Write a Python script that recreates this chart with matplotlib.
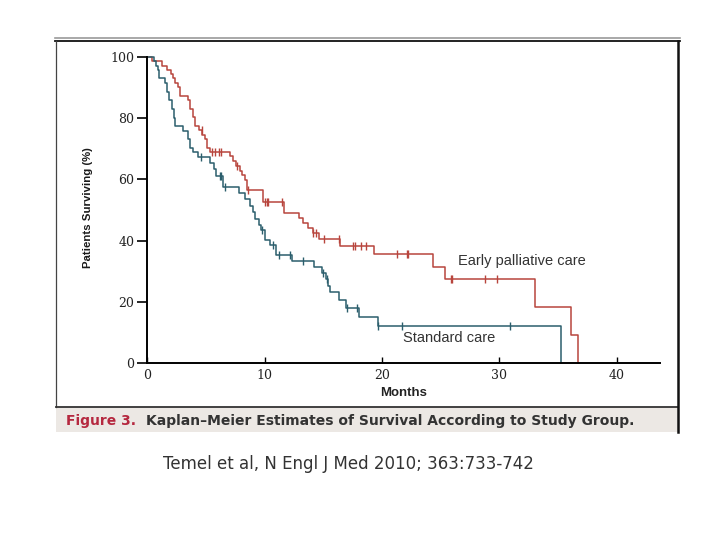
import numpy as np
import matplotlib
matplotlib.use("Agg")
from matplotlib import pyplot as plt
from matplotlib.lines import Line2D
from matplotlib.patches import Rectangle

# Kaplan-Meier step data (months, % surviving)
epc_t = [0, 0.4, 1.25, 1.7, 2.0, 2.2, 2.4, 2.6, 2.8, 3.5, 3.7, 3.9, 4.1, 4.4, 4.7,
         4.9, 5.1, 5.4, 7.1, 7.3, 7.6, 7.9, 8.1, 8.3, 8.5, 9.9, 11.7, 12.9, 13.3,
         13.7, 14.1, 14.6, 16.4, 19.3, 24.3, 25.4, 33.0, 36.1, 36.7]
epc_s = [100, 98.6, 97.2, 95.8, 94.4, 93.0, 91.5, 90.1, 87.3, 85.9, 83.1, 80.3, 77.5,
         76.1, 74.6, 73.2, 70.4, 69.0, 67.5, 66.0, 64.5, 62.9, 61.4, 59.9, 56.6,
         52.6, 49.0, 47.3, 45.6, 44.0, 42.4, 40.6, 38.3, 35.5, 31.4, 27.3, 18.2,
         9.1, 0]
epc_cens = [4.65, 5.5, 5.8, 6.1, 6.3, 7.7, 8.6, 10.0, 10.2, 10.3, 11.5, 14.1, 14.4,
            15.1, 16.3, 17.5, 17.7, 18.2, 18.6, 21.3, 22.1, 22.2, 25.9, 26.0,
            28.8, 29.8]

std_t = [0, 0.6, 0.8, 0.9, 1.0, 1.5, 1.7, 1.9, 2.1, 2.3, 2.4, 3.1, 3.5, 3.7, 3.9,
         4.3, 5.4, 5.7, 5.9, 6.5, 7.8, 8.3, 8.8, 9.0, 9.2, 9.5, 9.7, 10.0, 10.5,
         11.0, 12.3, 14.2, 14.9, 15.2, 15.4, 15.6, 16.3, 16.9, 18.0, 19.7, 35.2]
std_s = [100, 98.6, 97.2, 95.8, 93.0, 91.5, 88.7, 85.9, 83.0, 80.2, 77.4, 75.9, 73.1,
         70.3, 68.8, 67.2, 65.3, 63.5, 61.0, 57.4, 55.6, 53.5, 51.3, 49.3, 47.2,
         45.1, 43.5, 40.2, 38.6, 35.3, 33.3, 31.3, 29.3, 27.3, 25.3, 23.2, 20.7,
         18.1, 15.1, 12.0, 0]
std_cens = [4.6, 6.2, 6.3, 6.6, 9.8, 10.7, 11.2, 12.2, 13.3, 15.0, 15.3, 17.0,
            17.9, 19.7, 21.7, 30.9]

x_ticks = [0, 10, 20, 30, 40]
y_ticks = [0, 20, 40, 60, 80, 100]

RED = '#b8453d'
TEAL = '#2b5e6c'
W, H = 720, 540


def fx(px):
    return px / W


def fy(py):
    return 1 - py / H


def level_at(t, s, ct):
    idx = np.searchsorted(t, ct, side='right') - 1
    return np.asarray(s)[idx]


fig = plt.figure(figsize=(7.2, 5.4), dpi=100)
fig.patch.set_facecolor('white')

# scanned-figure frame and caption band
fig.add_artist(Rectangle((fx(56), fy(432)), fx(678) - fx(56), fy(407) - fy(432),
                         transform=fig.transFigure, facecolor='#ece8e4', edgecolor='none'))
fig.add_artist(Line2D([fx(55), fx(680)], [fy(38), fy(38)], color='#9a9a9a', lw=1.2))
fig.add_artist(Line2D([fx(55), fx(680)], [fy(41), fy(41)], color='#111111', lw=1.3))
fig.add_artist(Line2D([fx(56), fx(56)], [fy(41), fy(407)], color='#444444', lw=0.9))
fig.add_artist(Line2D([fx(56), fx(678)], [fy(407), fy(407)], color='#333333', lw=1.3))
fig.add_artist(Line2D([fx(678), fx(678)], [fy(41), fy(432)], color='#111111', lw=1.8))

ax = fig.add_axes([fx(147), fy(363), fx(660) - fx(147), fy(57) - fy(363)])
ax.set_facecolor('none')
ax.set_xlim(0, 513 / 11.75)
ax.set_ylim(0, 100)

ax.step(epc_t, epc_s, where='post', color=RED, lw=1.1, clip_on=False)
ax.step(std_t, std_s, where='post', color=TEAL, lw=1.1, clip_on=False)
ax.plot(epc_cens, level_at(epc_t, epc_s, epc_cens), ls='none', marker='|',
        ms=6, mew=1.0, color=RED, clip_on=False)
ax.plot(std_cens, level_at(std_t, std_s, std_cens), ls='none', marker='|',
        ms=6, mew=1.0, color=TEAL, clip_on=False)

for side in ['top', 'right']:
    ax.spines[side].set_visible(False)
ax.spines['left'].set_linewidth(1.4)
ax.spines['bottom'].set_linewidth(1.4)
ax.spines['left'].set_bounds(0, 100)

ax.set_xticks(x_ticks)
ax.set_yticks(y_ticks)
ax.tick_params(axis='y', direction='out', length=7, width=1.2, pad=2,
               labelsize=9, labelcolor='#222222')
ax.tick_params(axis='x', direction='in', length=4, width=1.0, pad=4,
               labelsize=9, labelcolor='#222222')
for lab in ax.get_xticklabels() + ax.get_yticklabels():
    lab.set_family('DejaVu Serif')

ax.text(26.5, 33.3, 'Early palliative care', fontsize=10.5, color='#333333',
        family=['Liberation Sans', 'DejaVu Sans'], va='center', ha='left')
ax.text(21.8, 8.2, 'Standard care', fontsize=10.5, color='#333333',
        family=['Liberation Sans', 'DejaVu Sans'], va='center', ha='left')

fig.text(fx(88), fy(208), 'Patients Surviving (%)', rotation=90, fontsize=8.2,
         fontweight='bold', ha='center', va='center', color='#1a1a1a',
         family=['Liberation Sans', 'DejaVu Sans'])
fig.text(fx(404), fy(393), 'Months', fontsize=9.5, fontweight='bold',
         ha='center', va='center', color='#222222',
         family=['Liberation Sans', 'DejaVu Sans'])

fig.text(fx(66), fy(421), 'Figure 3.', fontsize=10, fontweight='bold',
         ha='left', va='center', color='#b5283f', family='DejaVu Sans')
fig.text(fx(146), fy(421), 'Kaplan\u2013Meier Estimates of Survival According to Study Group.',
         fontsize=10, fontweight='bold', ha='left', va='center', color='#333333',
         family='DejaVu Sans')

fig.text(fx(348), fy(464), 'Temel et al, N Engl J Med 2010; 363:733-742',
         fontsize=12, ha='center', va='center', color='#333333', family='DejaVu Sans')

fig.savefig('out.png', dpi=100)
